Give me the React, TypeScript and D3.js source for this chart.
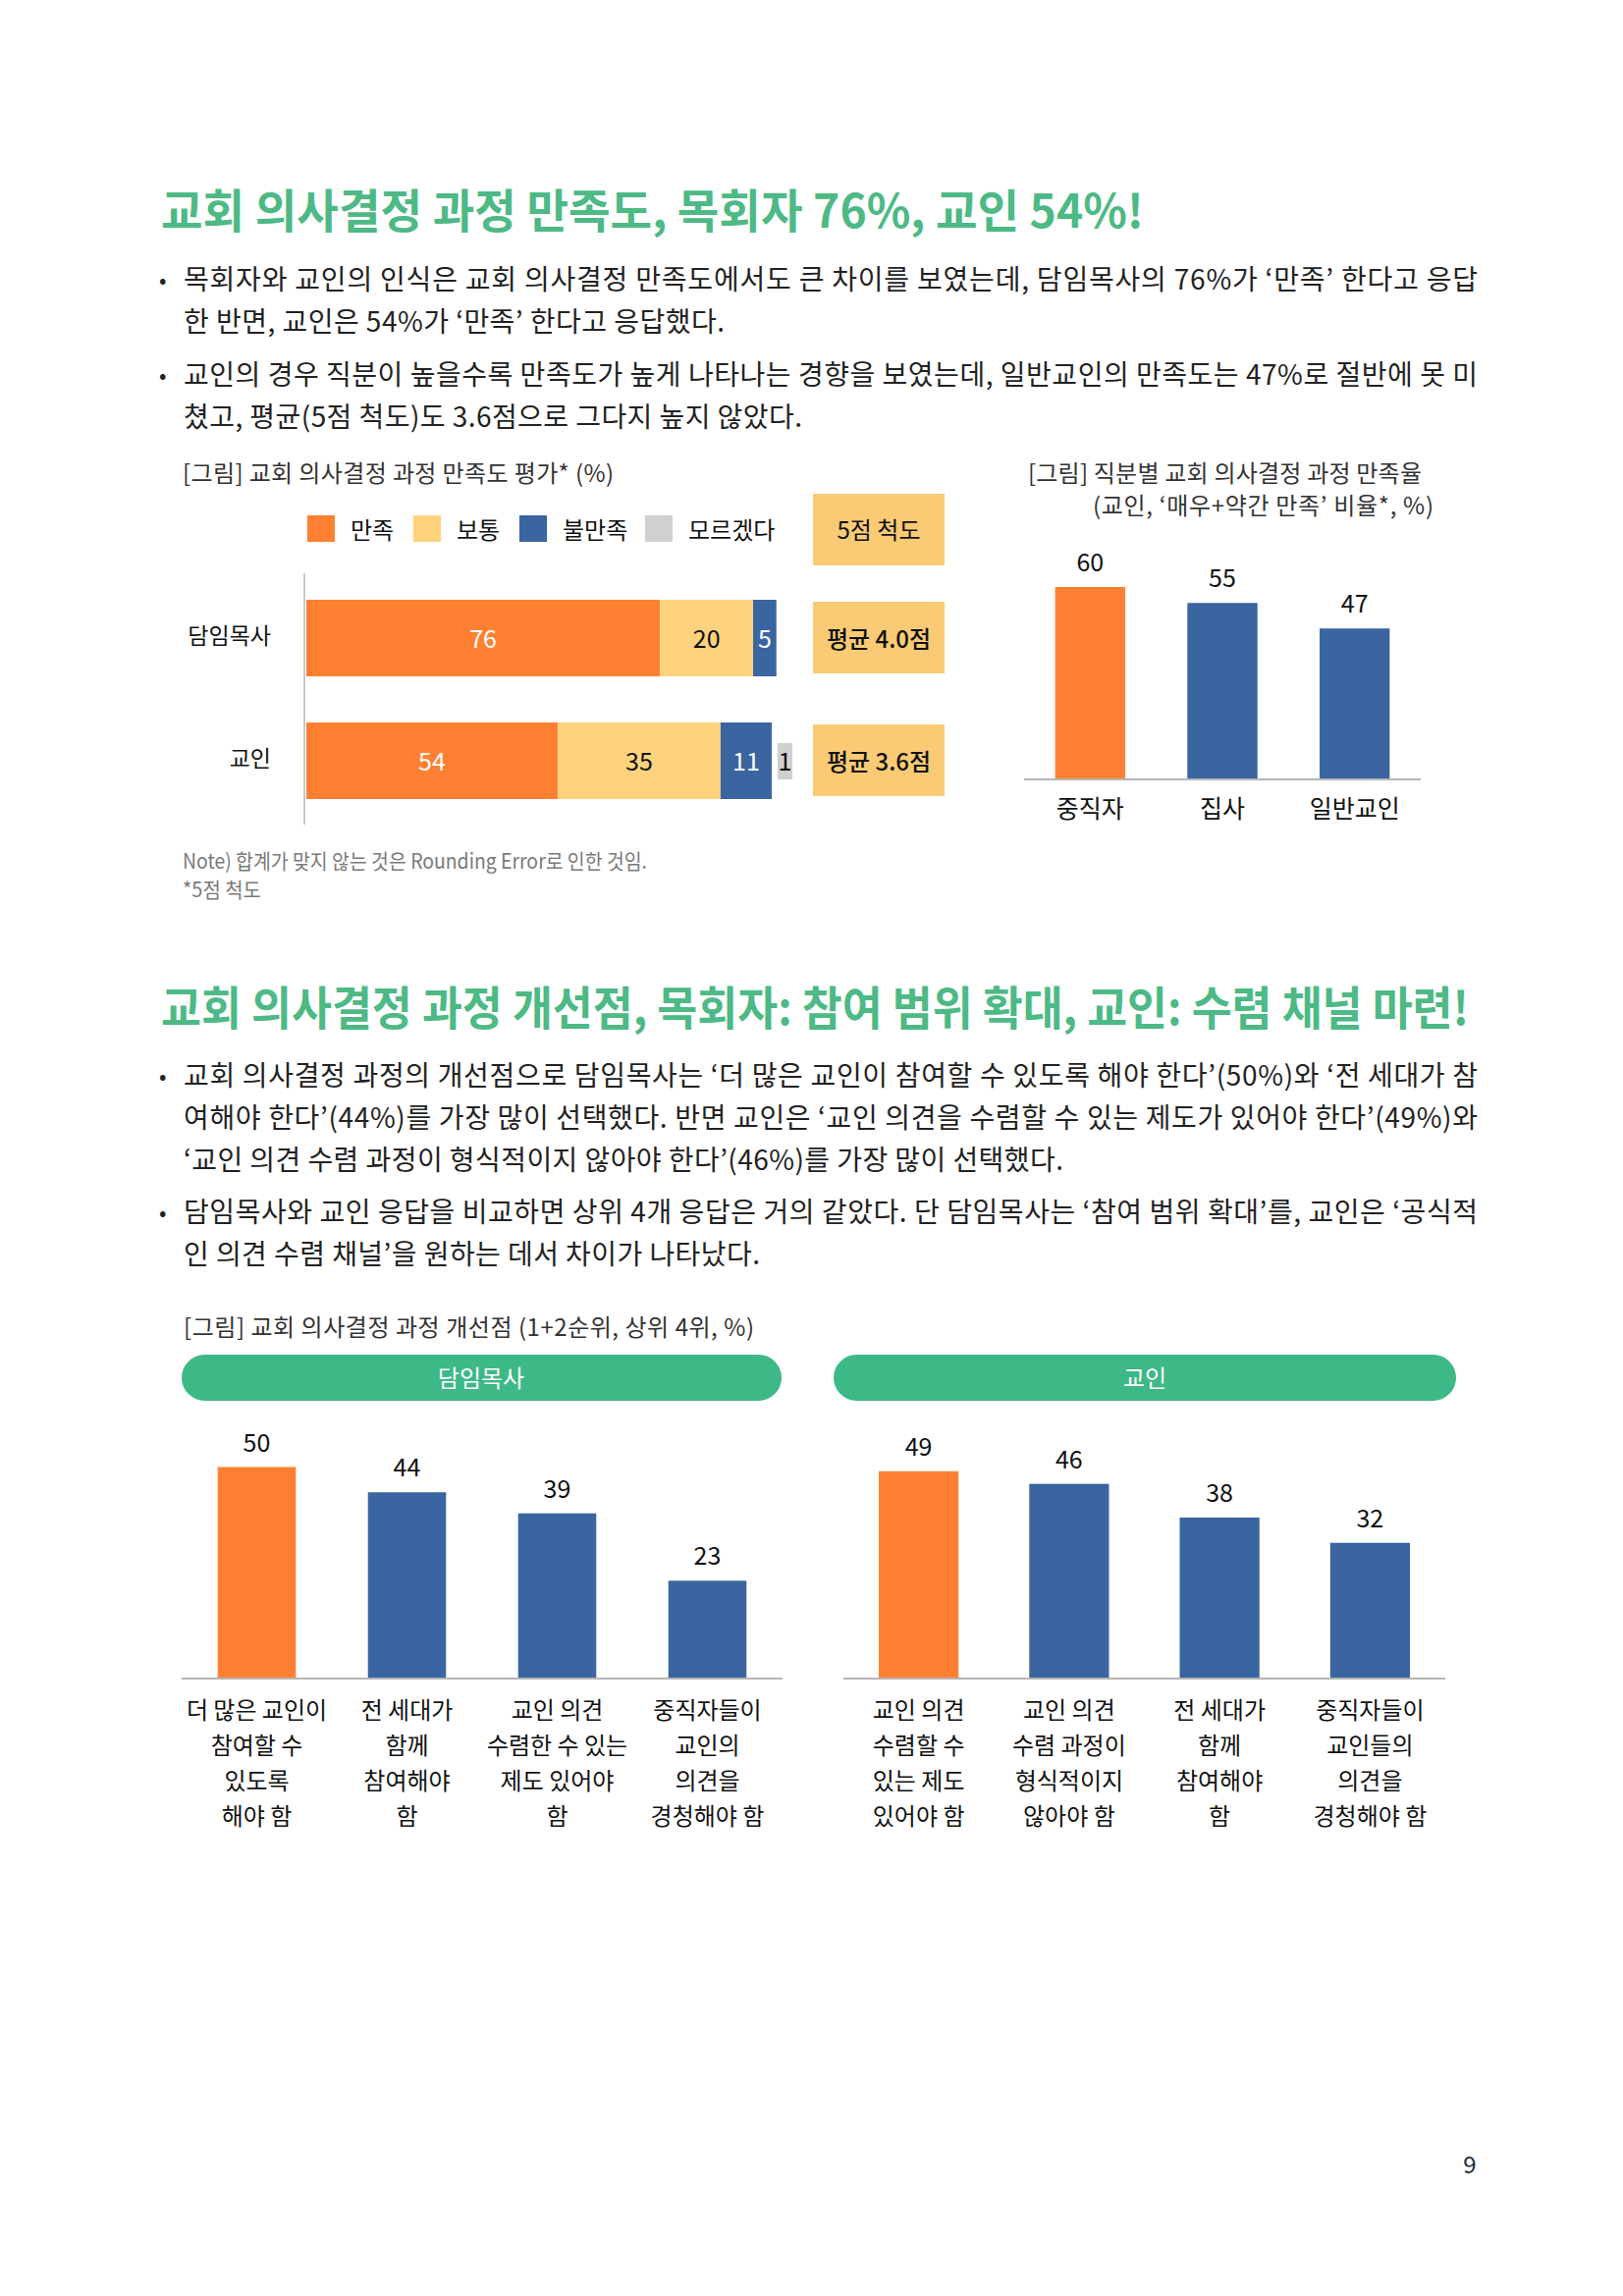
import React from "react";
import * as d3 from "d3";

const FONT = "'Noto Sans CJK KR', 'Noto Sans', sans-serif";

// ---------- text content ----------
const title1 = "교회 의사결정 과정 만족도, 목회자 76%, 교인 54%!";
const title2 = "교회 의사결정 과정 개선점, 목회자: 참여 범위 확대, 교인: 수렴 채널 마련!";

const section1Bullets = [
  [
    "목회자와 교인의 인식은 교회 의사결정 만족도에서도 큰 차이를 보였는데, 담임목사의 76%가 ‘만족’ 한다고 응답",
    "한 반면, 교인은 54%가 ‘만족’ 한다고 응답했다.",
  ],
  [
    "교인의 경우 직분이 높을수록 만족도가 높게 나타나는 경향을 보였는데, 일반교인의 만족도는 47%로 절반에 못 미",
    "쳤고, 평균(5점 척도)도 3.6점으로 그다지 높지 않았다.",
  ],
];
const section2Bullets = [
  [
    "교회 의사결정 과정의 개선점으로 담임목사는 ‘더 많은 교인이 참여할 수 있도록 해야 한다’(50%)와 ‘전 세대가 참",
    "여해야 한다’(44%)를 가장 많이 선택했다. 반면 교인은 ‘교인 의견을 수렴할 수 있는 제도가 있어야 한다’(49%)와",
    "‘교인 의견 수렴 과정이 형식적이지 않아야 한다’(46%)를 가장 많이 선택했다.",
  ],
  [
    "담임목사와 교인 응답을 비교하면 상위 4개 응답은 거의 같았다. 단 담임목사는 ‘참여 범위 확대’를, 교인은 ‘공식적",
    "인 의견 수렴 채널’을 원하는 데서 차이가 나타났다.",
  ],
];

// ---------- chart 1: stacked horizontal ----------
const stackCategories = ["담임목사", "교인"];
const stackSeries = ["만족", "보통", "불만족", "모르겠다"];
const stackColors = ["#FF8033", "#FFD37D", "#3A65A0", "#D0D0D0"];
const stackLabelColors = ["#FFFFFF", "#111111", "#FFFFFF", "#111111"];
const pastorValues = [76, 20, 5, 0];
const laityValues = [54, 35, 11, 1];
const scaleTitle = "5점 척도";
const averageLabels = ["평균 4.0점", "평균 3.6점"];

// ---------- chart 2: by position ----------
const positionCategories = ["중직자", "집사", "일반교인"];
const positionValues = [60, 55, 47];

// ---------- chart 3 & 4 ----------
const pastorImproveLabels = [
  ["더 많은 교인이", "참여할 수", "있도록", "해야 함"],
  ["전 세대가", "함께", "참여해야", "함"],
  ["교인 의견", "수렴한 수 있는", "제도 있어야", "함"],
  ["중직자들이", "교인의", "의견을", "경청해야 함"],
];
const pastorImproveValues = [50, 44, 39, 23];
const laityImproveLabels = [
  ["교인 의견", "수렴할 수", "있는 제도", "있어야 함"],
  ["교인 의견", "수렴 과정이", "형식적이지", "않아야 함"],
  ["전 세대가", "함께", "참여해야", "함"],
  ["중직자들이", "교인들의", "의견을", "경청해야 함"],
];
const laityImproveValues = [49, 46, 38, 32];

const ORANGE = "#FF8033";
const BLUE = "#3A65A0";
const GREEN_TITLE = "#4DB985";
const GREEN_PILL = "#3DB887";
const BOX = "#FACB74";
const TEXT = "#222222";

function Bullets({ groups, centers, ends }: { groups: string[][]; centers: number[][]; ends: number[][] }) {
  return (
    <g>
      {groups.map((lines, gi) => (
        <g key={gi}>
          <text x={162} y={centers[gi][0]} fontSize={22} fill={TEXT} dominantBaseline="central" fontFamily={FONT}>
            •
          </text>
          {lines.map((ln, li) => (
            <text
              key={li}
              x={187}
              y={centers[gi][li]}
              fontSize={28}
              fill={TEXT}
              dominantBaseline="central"
              fontFamily={FONT}
              textLength={ends[gi][li] - 187}
              lengthAdjust="spacing"
            >
              {ln}
            </text>
          ))}
        </g>
      ))}
    </g>
  );
}

function VBarChart({
  labels,
  values,
  x0,
  x1,
  baseY,
  maxV,
  height,
  pad,
  valueFont,
  catFont,
  catY,
  catStep,
}: {
  labels: string[][];
  values: number[];
  x0: number;
  x1: number;
  baseY: number;
  maxV: number;
  height: number;
  pad: number;
  valueFont: number;
  catFont: number;
  catY: number;
  catStep: number;
}) {
  const keys = labels.map((_, i) => String(i));
  const x = d3.scaleBand().domain(keys).range([x0, x1]).paddingInner(pad).paddingOuter(pad / 2);
  const y = d3.scaleLinear().domain([0, maxV]).range([baseY, baseY - height]);
  return (
    <g fontFamily={FONT}>
      {values.map((v, i) => {
        const bx = x(String(i))!;
        const bw = x.bandwidth();
        return (
          <g key={i}>
            <rect x={bx} y={y(v)} width={bw} height={baseY - y(v)} fill={i === 0 ? ORANGE : BLUE} />
            <text
              x={bx + bw / 2}
              y={y(v) - 27}
              fontSize={valueFont}
              textAnchor="middle"
              dominantBaseline="central"
              fill="#111"
            >
              {v}
            </text>
            {labels[i].map((l, li) => (
              <text
                key={li}
                x={bx + bw / 2}
                y={catY + li * catStep}
                fontSize={catFont}
                textAnchor="middle"
                dominantBaseline="central"
                fill="#111"
              >
                {l}
              </text>
            ))}
          </g>
        );
      })}
      <line x1={x0} x2={x1} y1={baseY + 1} y2={baseY + 1} stroke="#B5B5B5" strokeWidth={2} />
    </g>
  );
}

export default function App() {
  // chart 1 scales
  const xS = d3.scaleLinear().domain([0, 100]).range([312, 786]);
  const yS = d3.scaleBand().domain(stackCategories).range([587, 838]).paddingInner(0.376).paddingOuter(0.192);
  const stackRows = [pastorValues, laityValues];

  const legendX = [313, 421, 529, 657];

  // chart 2
  const x2 = d3.scaleBand().domain(positionCategories).range([1043, 1447]).paddingInner(0.47).paddingOuter(0.235);
  const y2 = d3.scaleLinear().domain([0, 60]).range([793, 598]);

  return (
    <svg
      width={1653}
      height={2339}
      viewBox="0 0 1653 2339"
      style={{ position: "absolute", left: 0, top: 0, display: "block", background: "#fff" }}
    >
      <rect x={0} y={0} width={1653} height={2339} fill="#fff" />

      {/* Title 1 */}
      <text
        x={164}
        y={211}
        fontSize={47}
        fontWeight={700}
        fill={GREEN_TITLE}
        dominantBaseline="central"
        fontFamily={FONT}
        textLength={1001}
        lengthAdjust="spacingAndGlyphs"
      >
        {title1}
      </text>

      <Bullets groups={section1Bullets} centers={[[283, 326], [380, 423]]} ends={[[1505, 738], [1505, 817]]} />

      {/* Chart 1 caption */}
      <text
        x={186}
        y={480}
        fontSize={24}
        fill="#333"
        dominantBaseline="central"
        fontFamily={FONT}
        textLength={439}
        lengthAdjust="spacing"
      >
        [그림] 교회 의사결정 과정 만족도 평가* (%)
      </text>

      {/* Legend */}
      <g fontFamily={FONT}>
        {stackSeries.map((s, i) => (
          <g key={s}>
            <rect x={legendX[i]} y={525} width={28} height={27} fill={stackColors[i]} />
            <text x={legendX[i] + 44} y={538} fontSize={24} fill="#111" dominantBaseline="central">
              {s}
            </text>
          </g>
        ))}
      </g>

      {/* Stacked bars */}
      <g fontFamily={FONT}>
        <line x1={310} x2={310} y1={584} y2={840} stroke="#B5B5B5" strokeWidth={1.5} />
        {stackCategories.map((c, ci) => {
          const vals = stackRows[ci];
          const by = yS(c)!;
          const bh = yS.bandwidth();
          const cy = by + bh / 2;
          let acc = 0;
          const segs: React.ReactNode[] = [];
          const mainTotal = vals.slice(0, 3).reduce((a, b) => a + b, 0);
          vals.forEach((v, si) => {
            if (v <= 0) return;
            if (si === 3) {
              // small "don't know" value shown as a label box beside the bar
              const lx = xS(mainTotal) + 6;
              segs.push(
                <g key={si}>
                  <rect x={lx} y={cy - 18} width={15} height={37} fill={stackColors[si]} />
                  <text x={lx + 7.5} y={cy - 1} fontSize={25} textAnchor="middle" dominantBaseline="central" fill="#111">
                    {v}
                  </text>
                </g>
              );
              return;
            }
            const sx = xS(acc);
            const ex = xS(acc + v);
            acc += v;
            const w = ex - sx;
            const lx = sx + w / 2;
            segs.push(
              <g key={si}>
                <rect x={sx} y={by} width={w} height={bh} fill={stackColors[si]} />
                {w < 30 && <rect x={lx - 10} y={cy - 18} width={20} height={35} fill={stackColors[si]} />}
                <text
                  x={lx}
                  y={cy - 1}
                  fontSize={25}
                  textAnchor="middle"
                  dominantBaseline="central"
                  fill={stackLabelColors[si]}
                >
                  {v}
                </text>
              </g>
            );
          });
          return (
            <g key={c}>
              <text x={276} y={cy - 4} fontSize={23} textAnchor="end" dominantBaseline="central" fill="#111">
                {c}
              </text>
              {segs}
            </g>
          );
        })}
      </g>

      {/* Right side boxes */}
      <g fontFamily={FONT}>
        <rect x={828} y={503} width={134} height={73} fill={BOX} />
        <text x={895} y={538} fontSize={24} textAnchor="middle" dominantBaseline="central" fill="#111">
          {scaleTitle}
        </text>
        {stackCategories.map((c, ci) => {
          const by = yS(c)!;
          const cy = by + yS.bandwidth() / 2;
          return (
            <g key={c}>
              <rect x={828} y={cy - 37} width={134} height={73} fill={BOX} />
              <text
                x={895}
                y={cy - 1}
                fontSize={24}
                fontWeight={500}
                textAnchor="middle"
                dominantBaseline="central"
                fill="#111"
              >
                {averageLabels[ci]}
              </text>
            </g>
          );
        })}
      </g>

      {/* Notes */}
      <g fontFamily={FONT} fill="#7A7A7A">
        <text x={186} y={876} fontSize={21} dominantBaseline="central" textLength={473} lengthAdjust="spacingAndGlyphs">
          Note) 합계가 맞지 않는 것은 Rounding Error로 인한 것임.
        </text>
        <text x={186} y={905} fontSize={21} dominantBaseline="central" textLength={80} lengthAdjust="spacingAndGlyphs">
          *5점 척도
        </text>
      </g>

      {/* Chart 2 */}
      <g fontFamily={FONT}>
        <text x={1047} y={480} fontSize={24} fill="#333" dominantBaseline="central" textLength={401} lengthAdjust="spacing">
          [그림] 직분별 교회 의사결정 과정 만족율
        </text>
        <text x={1113} y={513} fontSize={24} fill="#333" dominantBaseline="central" textLength={347} lengthAdjust="spacing">
          (교인, ‘매우+약간 만족’ 비율*,  %)
        </text>
        {positionCategories.map((c, i) => {
          const bx = x2(c)!;
          const bw = x2.bandwidth();
          const v = positionValues[i];
          return (
            <g key={c}>
              <rect x={bx} y={y2(v)} width={bw} height={793 - y2(v)} fill={i === 0 ? ORANGE : BLUE} />
              <text x={bx + bw / 2} y={y2(v) - 27} fontSize={25} textAnchor="middle" dominantBaseline="central" fill="#111">
                {v}
              </text>
              <text x={bx + bw / 2} y={822} fontSize={25} textAnchor="middle" dominantBaseline="central" fill="#111">
                {c}
              </text>
            </g>
          );
        })}
        <line x1={1043} x2={1447} y1={794} y2={794} stroke="#B5B5B5" strokeWidth={2} />
      </g>

      {/* Title 2 */}
      <text
        x={164}
        y={1023}
        fontSize={47}
        fontWeight={700}
        fill={GREEN_TITLE}
        dominantBaseline="central"
        fontFamily={FONT}
        textLength={1332}
        lengthAdjust="spacingAndGlyphs"
      >
        {title2}
      </text>

      <Bullets
        groups={section2Bullets}
        centers={[[1094, 1137, 1180], [1233, 1276]]}
        ends={[[1505, 1505, 1083], [1505, 774]]}
      />

      <text
        x={187}
        y={1350}
        fontSize={24}
        fill="#333"
        dominantBaseline="central"
        fontFamily={FONT}
        textLength={581}
        lengthAdjust="spacing"
      >
        [그림] 교회 의사결정 과정 개선점 (1+2순위, 상위 4위, %)
      </text>

      {/* Pills */}
      <g fontFamily={FONT}>
        <rect x={185} y={1380} width={611} height={47} rx={23.5} fill={GREEN_PILL} />
        <text x={490} y={1402} fontSize={24} fill="#fff" textAnchor="middle" dominantBaseline="central">
          담임목사
        </text>
        <rect x={849} y={1380} width={634} height={47} rx={23.5} fill={GREEN_PILL} />
        <text x={1166} y={1402} fontSize={24} fill="#fff" textAnchor="middle" dominantBaseline="central">
          교인
        </text>
      </g>

      <VBarChart
        labels={pastorImproveLabels}
        values={pastorImproveValues}
        x0={185}
        x1={797}
        baseY={1709}
        maxV={50}
        height={214.5}
        pad={0.48}
        valueFont={25}
        catFont={24}
        catY={1740}
        catStep={36.3}
      />
      <VBarChart
        labels={laityImproveLabels}
        values={laityImproveValues}
        x0={859}
        x1={1472}
        baseY={1709}
        maxV={50}
        height={214.5}
        pad={0.47}
        valueFont={25}
        catFont={24}
        catY={1740}
        catStep={36.3}
      />

      <text x={1497} y={2203} fontSize={24} fill="#1B2B3B" textAnchor="middle" dominantBaseline="central" fontFamily={FONT}>
        9
      </text>
    </svg>
  );
}
